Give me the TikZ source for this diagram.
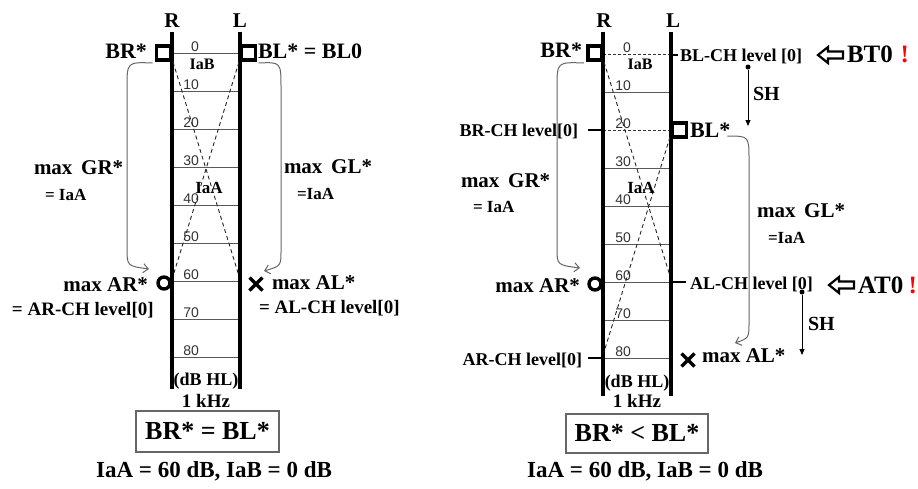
\documentclass[tikz,border=0pt]{standalone}
\usepackage{fontspec}
\setmainfont{Liberation Serif}
\newfontfamily\numfont{Liberation Sans}
\usetikzlibrary{arrows.meta,shapes.misc}
\begin{document}
\begin{tikzpicture}[x=1pt,y=-1pt,
  every node/.style={inner sep=0pt, outer sep=0pt},
  t/.style={font=\fontsize{#1}{#1}\selectfont\bfseries},
  axis/.style={line width=3.6pt},
  lvl/.style={line width=1pt, black!65},
  lvldash/.style={line width=0.9pt, black!80, dash pattern=on 3pt off 2pt},
  diag/.style={line width=0.9pt, black!85, dash pattern=on 4pt off 3pt},
  num/.style={font=\numfont\fontsize{14}{14}\selectfont, text=black!80, anchor=base east},
  sqn/.style={minimum width=14pt, minimum height=14pt},
  circn/.style={circle, minimum size=12pt},
  xn/.style={minimum size=13pt},
  markline/.style={line width=3.4pt},
  brk/.style={draw=black!60, line width=1pt, -{Straight Barb[length=5pt,width=9pt]}},
  sharr/.style={line width=0.9pt, -{Triangle[length=6pt,width=5pt]}},
  dotn/.style={circle, fill, minimum size=5pt},
  tk/.style={line width=1.8pt},
  hollow/.style={line width=2.2pt, line join=miter},
  resbox/.style={draw=black!60, line width=1.2pt},
]
\useasboundingbox (0,0) rectangle (918,488);

% ================= LEFT PANEL =================
\coordinate (RtA) at (172,32); \coordinate (RbA) at (172,389);
\coordinate (LtA) at (240,32); \coordinate (LbA) at (240,389);
\foreach \d in {0,...,8} {
  \pgfmathsetmacro\yy{53+38*\d}
  \draw[lvl] (172,\yy) -- (240,\yy);
  \node[num] at (199,\yy-2) {\ifnum\d=0 0\else\d0\fi};
}
\draw[axis] (RtA) -- (RbA);
\draw[axis] (LtA) -- (LbA);
\draw[diag] (173,62) -- (239,276);
\draw[diag] (239,62) -- (173,276);

\node[sqn] (BRsqA) at (163.5,53) {};
\node[sqn] (BLsqA) at (248.5,53) {};
\node[circn] (ARcA) at (164,283) {};
\node[xn] (ALxA) at (256,284) {};
\draw[markline] (BRsqA.south west) rectangle (BRsqA.north east);
\draw[markline] (BLsqA.south west) rectangle (BLsqA.north east);
\draw[markline] (ARcA) circle[radius=6pt];
\draw[markline] (ALxA.north west) -- (ALxA.south east) (ALxA.north east) -- (ALxA.south west);

\node[t=21, anchor=base] (RA) at (172,27.5) {R};
\node[t=21, anchor=base] (LA) at (240,27.5) {L};
\node[t=22, anchor=base east] (BRA) at (147,58) {BR*};
\node[t=22, anchor=base west] (BLA) at (258,58) {BL* = BL0};
\node[t=16, anchor=base] (IaBA) at (202,69) {IaB};
\node[t=17, anchor=base] (IaAA) at (209,193) {IaA};
\node[t=21, anchor=base west] (GRA) at (34,174) {max\, GR*};
\node[t=17, anchor=base west] (GReqA) at (45,200) {= IaA};
\node[t=21, anchor=base west] (GLA) at (284,173) {max\, GL*};
\node[t=17, anchor=base west] (GLeqA) at (297,199) {=IaA};
\node[t=21, anchor=base east] (ARA) at (148,291) {max AR*};
\node[t=19, anchor=base west] (AReqA) at (12,315) {= AR-CH level[0]};
\node[t=21, anchor=base west] (ALA) at (272,289) {max AL*};
\node[t=19, anchor=base west] (ALeqA) at (259,313) {= AL-CH level[0]};
\node[t=18, anchor=base] (dBA) at (206,385) {(dB HL)};
\node[t=19, anchor=base] (kHzA) at (206,407) {1 kHz};
\node[resbox, minimum width=143pt, minimum height=41pt] (boxA) at (207.5,431.5) {};
\node[t=26, anchor=base] (boxtA) at (207.5,439) {BR* = BL*};
\node[t=23, anchor=base] (botA) at (214,477) {IaA = 60 dB, IaB = 0 dB};

\coordinate (gRA1) at (149,269);
\coordinate (gLA1) at (264,271);
\draw[brk] ([shift={(-4,3)}]BRsqA.south west) .. controls (127,62) .. (127,88) -- (127,248) .. controls (127,266) .. (gRA1);
\draw[brk] ([shift={(3,3)}]BLsqA.south east) .. controls (281,62) .. (281,88) -- (281,250) .. controls (281,266) .. (gLA1);

% ================= RIGHT PANEL =================
\coordinate (RtB) at (603,32); \coordinate (RbB) at (603,396);
\coordinate (LtB) at (671,32); \coordinate (LbB) at (671,396);
\foreach \d in {0,...,8} {
  \pgfmathsetmacro\yy{54+38*\d}
  \ifnum\d<3 \ifnum\d=1 \draw[lvl] (603,\yy) -- (671,\yy); \else \draw[lvldash] (603,\yy) -- (671,\yy); \fi
  \else \draw[lvl] (603,\yy) -- (671,\yy); \fi
  \node[num] at (631,\yy-2) {\ifnum\d=0 0\else\d0\fi};
}
\draw[axis] (RtB) -- (RbB);
\draw[axis] (LtB) -- (LbB);
\draw[diag] (604,62) -- (670,276);
\draw[diag] (670,137) -- (604,352);

\draw[tk] (671,55) -- (678,55);
\draw[tk] (588,130) -- (603,130);
\draw[tk] (671,282) -- (686,282);
\draw[tk] (588,358) -- (603,358);

\node[sqn] (BRsqB) at (595,53) {};
\node[sqn] (BLsqB) at (679.5,130) {};
\node[circn] (ARcB) at (595,284) {};
\node[xn] (ALxB) at (688,360) {};
\draw[markline] (BRsqB.south west) rectangle (BRsqB.north east);
\draw[markline] (BLsqB.south west) rectangle (BLsqB.north east);
\draw[markline] (ARcB) circle[radius=6pt];
\draw[markline] (ALxB.north west) -- (ALxB.south east) (ALxB.north east) -- (ALxB.south west);

\node[t=21, anchor=base] (RB) at (604,27.5) {R};
\node[t=21, anchor=base] (LB) at (673,27.5) {L};
\node[t=22, anchor=base east] (BRB) at (582,57) {BR*};
\node[t=18, anchor=base west] (BLCH) at (680,61) {BL-CH level [0]};
\node[t=25, anchor=base west] (BT0) at (847,62) {BT0};
\node[t=25, anchor=base east, text=red] (ex1) at (909,62) {!};
\node[t=20, anchor=base west] (SH1) at (753,100) {SH};
\node[t=18, anchor=base east] (BRCH) at (578,136) {BR-CH level[0]};
\node[t=22, anchor=base west] (BLB) at (690,137) {BL*};
\node[t=16, anchor=base] (IaBB) at (640,69) {IaB};
\node[t=17, anchor=base] (IaAB) at (641,193) {IaA};
\node[t=21, anchor=base west] (GRB) at (461,187) {max\, GR*};
\node[t=17, anchor=base west] (GReqB) at (473,212) {= IaA};
\node[t=21, anchor=base east] (ARB) at (580,292) {max AR*};
\node[t=21, anchor=base west] (GLB) at (757,217) {max\, GL*};
\node[t=17, anchor=base west] (GLeqB) at (768,243) {=IaA};
\node[t=18, anchor=base west] (ALCH) at (690,289) {AL-CH level [0]};
\node[t=25, anchor=base west] (AT0) at (858,293) {AT0};
\node[t=25, anchor=base east, text=red] (ex2) at (917,293) {!};
\node[t=20, anchor=base west] (SH2) at (808,330) {SH};
\node[t=18, anchor=base east] (ARCH) at (582,365) {AR-CH level[0]};
\node[t=21, anchor=base west] (ALB) at (702,362) {max AL*};
\node[t=18, anchor=base] (dBB) at (637,387) {(dB HL)};
\node[t=19, anchor=base] (kHzB) at (637,407) {1 kHz};
\node[resbox, minimum width=142pt, minimum height=39pt] (boxB) at (637,433.5) {};
\node[t=26, anchor=base] (boxtB) at (637,441) {BR* < BL*};
\node[t=23, anchor=base] (botB) at (645,477) {IaA = 60 dB, IaB = 0 dB};

% hollow arrows
\draw[hollow] (818,55) -- (828,47) -- (828,51.5) -- (843,51.5) -- (843,58.5) -- (828,58.5) -- (828,63) -- cycle;
\draw[hollow] (829,285) -- (839,277) -- (839,281.5) -- (854,281.5) -- (854,288.5) -- (839,288.5) -- (839,293) -- cycle;

% SH arrows
\node[dotn] (d1) at (748,67) {};
\coordinate (d1e) at (748,126);
\draw[sharr] (d1) -- (d1e);
\node[dotn] (d2) at (802,292) {};
\coordinate (d2e) at (802,355);
\draw[sharr] (d2) -- (d2e);

% brackets
\coordinate (gRB1) at (580,268);
\coordinate (gLB1) at (735,343);
\draw[brk] ([shift={(-4,3)}]BRsqB.south west) .. controls (557,62) .. (557,88) -- (557,248) .. controls (557,265) .. (gRB1);
\draw[brk] ([shift={(-3,-1)}]BLB.south east) .. controls (749,136) .. (749,160) -- (749,322) .. controls (749,338) .. (gLB1);
\end{tikzpicture}
\end{document}
